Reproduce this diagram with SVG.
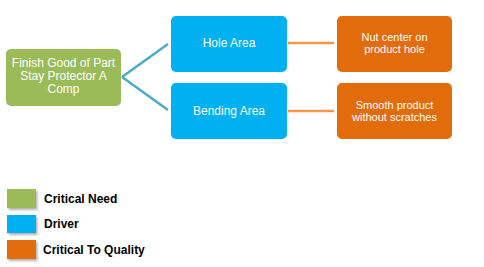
<svg xmlns="http://www.w3.org/2000/svg" width="484" height="267" viewBox="0 0 484 267">
<defs>
<filter id="sh" x="-20%" y="-20%" width="150%" height="160%"><feDropShadow dx="1.5" dy="2" stdDeviation="1.2" flood-color="#000" flood-opacity="0.3"/></filter>
</defs>
<style>
.t{font-family:"Liberation Sans",Arial,sans-serif;font-size:12px;fill:#fff;text-anchor:middle}
.s{font-size:11px}
.l{font-family:"Liberation Sans",Arial,sans-serif;font-size:12px;font-weight:bold;fill:#000}
.g{fill:#9bbb59}.b{fill:#00b0f0}.o{fill:#e36c0a}
</style>
<rect width="484" height="267" fill="#fff"/>
<g id="connectors" fill="none">
<path d="M122 77 L168 44 M122 77 L168 110" stroke="#4bacc6" stroke-width="2.5"/>
<path d="M288 43 H334 M288 111 H334" stroke="#f79646" stroke-width="2.5"/>
</g>
<g id="n1"><rect class="g" x="6" y="49" width="115" height="57" rx="5"/>
<text class="t"><tspan x="63.5" y="67">Finish Good of Part</tspan><tspan x="63.5" y="80">Stay Protector A</tspan><tspan x="63.5" y="93">Comp</tspan></text></g>
<g id="n2"><rect class="b" x="171" y="16" width="116" height="56" rx="5"/><text class="t" x="229" y="47">Hole Area</text></g>
<g id="n3"><rect class="b" x="171" y="83" width="116" height="56" rx="5"/><text class="t" x="229" y="115">Bending Area</text></g>
<g id="n4"><rect class="o" x="337" y="16" width="115" height="56" rx="5"/><text class="t s"><tspan x="394.5" y="41">Nut center on</tspan><tspan x="394.5" y="53">product hole</tspan></text></g>
<g id="n5"><rect class="o" x="337" y="83" width="115" height="56" rx="5"/><text class="t s"><tspan x="394.5" y="109">Smooth product</tspan><tspan x="394.5" y="121">without scratches</tspan></text></g>
<g id="legend">
<rect class="g" x="7" y="189" width="29" height="19" filter="url(#sh)"/><text class="l" x="44" y="203">Critical Need</text>
<rect class="b" x="7" y="215" width="29" height="18" filter="url(#sh)"/><text class="l" x="44" y="228">Driver</text>
<rect class="o" x="7" y="240" width="29" height="19" filter="url(#sh)"/><text class="l" x="43" y="254">Critical To Quality</text>
</g>
</svg>
